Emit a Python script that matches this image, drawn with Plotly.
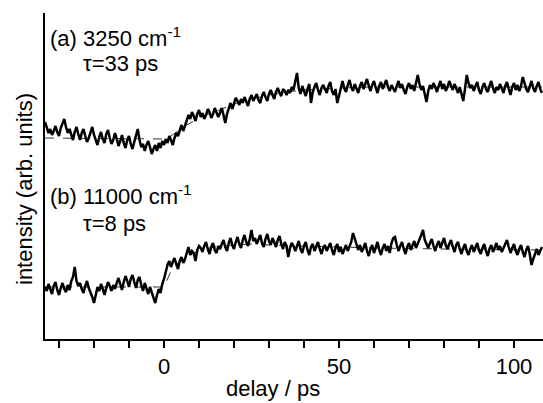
import numpy as np
import plotly.graph_objects as go

# delay grid (ps): evenly sampled from -34 to 108 in 0.5 ps steps
DELAY_START = -34.0
DELAY_STEP = 0.5

# (a) 3250 cm-1 trace (arb. units)
trace_a = [
    217, 212, 206, 210, 204, 208, 213, 207, 203, 211, 215, 220, 212, 206, 210, 203, 199, 207, 212, 205,
    199, 206, 210, 203, 197, 201, 208, 212, 204, 198, 194, 202, 207, 200, 196, 205, 209, 201, 195, 199,
    206, 200, 193, 198, 204, 196, 191, 199, 203, 195, 190, 197, 205, 210, 199, 192, 195, 188, 194, 198,
    192, 185, 190, 194, 188, 196, 191, 198, 194, 200, 196, 203, 199, 194, 201, 206, 203, 209, 214, 208,
    213, 219, 224, 220, 227, 223, 218, 225, 229, 222, 226, 220, 224, 230, 227, 221, 225, 231, 226, 222,
    226, 231, 224, 216, 225, 232, 236, 230, 236, 241, 238, 234, 240, 236, 242, 238, 233, 240, 244, 238,
    241, 245, 239, 236, 243, 247, 242, 238, 245, 249, 244, 240, 247, 251, 246, 243, 250, 248, 244, 249,
    246, 252, 249, 258, 266, 251, 245, 253, 248, 243, 250, 255, 236, 247, 252, 256, 249, 244, 251, 254,
    250, 246, 253, 257, 248, 244, 250, 236, 243, 252, 258, 251, 247, 254, 259, 252, 248, 255, 250, 246,
    253, 257, 250, 255, 260, 253, 248, 254, 258, 251, 246, 253, 257, 250, 255, 259, 252, 248, 254, 250,
    247, 253, 258, 251, 255, 249, 245, 252, 256, 250, 254, 248, 257, 264, 255, 249, 253, 245, 237, 248,
    254, 250, 256, 252, 247, 253, 258, 250, 255, 248, 252, 258, 253, 249, 255, 251, 246, 252, 245, 238,
    250, 264, 256, 251, 254, 248, 253, 257, 249, 245, 252, 256, 250, 247, 253, 258, 251, 246, 252, 249,
    255, 251, 246, 253, 257, 250, 244, 252, 256, 249, 254, 248, 253, 262, 255, 250, 247, 254, 258, 251,
    247, 253, 257, 250, 246,
]

# (b) 11000 cm-1 trace (arb. units)
trace_b = [
    52, 48, 55, 50, 45, 53, 57, 49, 44, 51, 56, 50, 47, 54, 49, 58, 62, 72, 58, 53,
    56, 50, 46, 53, 58, 51, 47, 42, 36, 45, 52, 48, 55, 50, 44, 51, 57, 53, 48, 54,
    50, 56, 61, 55, 49, 57, 63, 58, 52, 60, 64, 57, 51, 59, 62, 54, 48, 56, 50, 45,
    52, 47, 41, 36, 44, 50, 46, 55, 60, 68, 74, 78, 72, 77, 81, 75, 70, 78, 82, 76,
    80, 86, 92, 84, 88, 86, 78, 89, 93, 91, 87, 93, 97, 90, 85, 92, 96, 89, 86, 93,
    90, 95, 99, 92, 88, 96, 101, 94, 90, 97, 102, 95, 91, 99, 104, 97, 93, 100, 109, 98,
    101, 95, 99, 104, 96, 92, 100, 105, 98, 94, 101, 97, 92, 99, 103, 95, 90, 97, 93, 82,
    91, 96, 93, 88, 94, 98, 90, 86, 93, 97, 89, 84, 92, 95, 88, 93, 97, 90, 85, 91,
    94, 88, 92, 96, 89, 84, 91, 95, 87, 92, 85, 90, 94, 88, 93, 97, 106, 100, 93, 89,
    94, 87, 91, 96, 88, 83, 90, 94, 86, 92, 97, 89, 84, 91, 95, 88, 93, 86, 96, 101,
    102, 94, 88, 93, 97, 90, 85, 92, 96, 89, 94, 98, 91, 95, 100, 104, 109, 99, 95, 91,
    96, 100, 93, 88, 94, 98, 91, 96, 101, 94, 90, 95, 99, 92, 87, 94, 97, 90, 85, 91,
    95, 88, 84, 90, 94, 87, 92, 96, 89, 85, 91, 95, 88, 83, 90, 94, 87, 92, 96, 89,
    93, 87, 91, 96, 99, 92, 86, 91, 95, 88, 84, 90, 94, 87, 82, 89, 93, 85, 74, 80,
    86, 90, 84, 88, 92,
]

# fit curves
fit_a_t = [-34, 0, 2, 4, 6, 8, 10, 12, 15, 18, 21, 25, 30, 35, 40, 50, 60, 80, 108]
fit_a_y = [201, 200, 203, 208, 213, 217, 221, 224, 228, 232, 236, 240, 244, 247, 249, 251, 252, 252, 252]
fit_b_t = [-34, 0, 1, 2, 4, 6, 8, 10, 13, 16, 20, 25, 30, 40, 60, 80, 108]
fit_b_y = [52, 52, 60, 68, 76, 81, 85, 88, 91, 93, 94, 95, 94, 93, 91, 90, 89]

tick_vals = [0, 50, 100]
tick_text = ["0", "50", "100"]
MINOR_TICK_STEP = 10

delays = DELAY_START + DELAY_STEP * np.arange(len(trace_a))

FONT = "Liberation Sans, Arial, sans-serif"
fig = go.Figure()
for t, y in ((fit_a_t, fit_a_y), (fit_b_t, fit_b_y)):
    fig.add_trace(go.Scatter(x=t, y=y, mode="lines",
                             line=dict(color="#333333", width=1, dash="dash"),
                             showlegend=False, hoverinfo="skip"))
for y in (trace_a, trace_b):
    fig.add_trace(go.Scatter(x=delays, y=y, mode="lines",
                             line=dict(color="black", width=2.5),
                             showlegend=False))

L, T, B = 45, 13, 64
W, H = 543, 403
pw, ph = W - L, H - T - B


def px(x):
    return (x - L) / pw


def py(y):
    return (H - B - y) / ph


annos = [
    dict(text="(a) 3250 cm<sup>-1</sup>", x=px(48), y=py(37), xanchor="left", yanchor="middle"),
    dict(text="τ=33 ps", x=px(81), y=py(63), xanchor="left", yanchor="middle"),
    dict(text="(b) 11000 cm<sup>-1</sup>", x=px(48), y=py(195), xanchor="left", yanchor="middle"),
    dict(text="τ=8 ps", x=px(81), y=py(223), xanchor="left", yanchor="middle"),
    dict(text="delay / ps", x=px(273), y=py(388), xanchor="center", yanchor="middle"),
    dict(text="intensity (arb. units)", x=px(24), y=py(189), xanchor="center",
         yanchor="middle", textangle=-90),
]
for a in annos:
    a.update(xref="paper", yref="paper", showarrow=False,
             font=dict(family=FONT, size=22, color="black"))

fig.update_layout(
    width=W, height=H,
    margin=dict(l=L, r=0, t=T, b=B, pad=0),
    paper_bgcolor="white", plot_bgcolor="white",
    annotations=annos,
    xaxis=dict(range=[-34, DELAY_START + pw / 3.5], showgrid=False, zeroline=False,
               showline=True, linecolor="black", linewidth=2,
               tickmode="array", tickvals=tick_vals, ticktext=tick_text,
               ticks="outside", ticklen=7, tickwidth=1.5, tickcolor="black",
               minor=dict(ticks="outside", ticklen=7, tickwidth=1.5, tickcolor="black",
                          tick0=0, dtick=MINOR_TICK_STEP, showgrid=False),
               tickfont=dict(family=FONT, size=22, color="black")),
    yaxis=dict(range=[0, ph], showgrid=False, zeroline=False,
               showline=True, linecolor="black", linewidth=2,
               showticklabels=False, ticks=""),
)
fig.write_html("out.html")
